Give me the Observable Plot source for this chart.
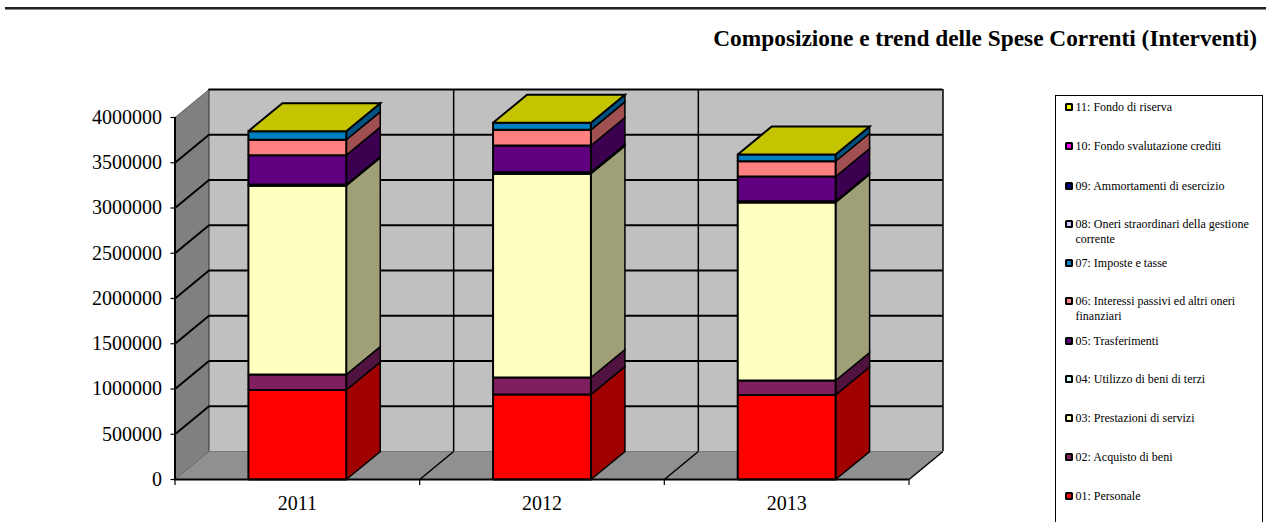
<!DOCTYPE html>
<html><head><meta charset="utf-8">
<script src="https://cdn.jsdelivr.net/npm/d3@7"></script>
<script src="https://cdn.jsdelivr.net/npm/@observablehq/plot@0.6"></script>
<style>
html,body{margin:0;padding:0;background:#fff;width:1266px;height:522px;overflow:hidden;position:relative;font-family:"Liberation Serif",serif;color:#000}
#rule{position:absolute;left:5px;right:0;top:7px;height:1.5px;background:#222;border-bottom:1.5px solid #888}
#title{position:absolute;right:9px;top:25px;font-size:23.35px;font-weight:bold;line-height:26px;white-space:nowrap}
#chart{position:absolute;left:0;top:0}
#legend{position:absolute;left:1054.5px;top:95px;width:208.5px;height:440px;border:1px solid #000;box-sizing:border-box}
.item{position:absolute;left:20px;width:182px;font-size:12px;line-height:15px}
.sw{position:absolute;left:-10.5px;top:3px;width:4px;height:4px;border:2.5px solid #000;border-radius:1.5px}
</style></head><body>
<div id="rule"></div>
<div id="title">Composizione e trend delle Spese Correnti (Interventi)</div>
<div id="chart"></div>
<div id="legend"></div>
<script>
const years = ["2011", "2012", "2013"];
const seriesNames = ["01: Personale","02: Acquisto di beni","03: Prestazioni di servizi","04: Utilizzo di beni di terzi","05: Trasferimenti","06: Interessi passivi ed altri oneri finanziari","07: Imposte e tasse","08: Oneri straordinari della gestione corrente","09: Ammortamenti di esercizio","10: Fondo svalutazione crediti","11: Fondo di riserva"];
const personale = [989000, 939000, 934000];
const acquisto = [171000, 188000, 160000];
const prestazioni = [2086000, 2251000, 1967000];
const utilizzo = [14000, 17000, 14000];
const trasferimenti = [324000, 296000, 273000];
const interessi = [170000, 173000, 169000];
const imposte = [95000, 78000, 74000];
const oneri = [0, 0, 0];
const ammortamenti = [0, 0, 0];
const fondoCrediti = [0, 0, 0];
const fondoRiserva = [0, 0, 0];
const seriesValues = [personale, acquisto, prestazioni, utilizzo, trasferimenti, interessi, imposte, oneri, ammortamenti, fondoCrediti, fondoRiserva];
const frontColors = ["#ff0000","#7f1f5f","#ffffc0","#ccffff","#600080","#ff8080","#0080c0","#ccccff","#000080","#ff00ff","#ffff00"];
const sideColors = ["#a00000","#501340","#a0a078","#80a0a0","#3c0050","#a05050","#005080","#8080a0","#000050","#a000a0","#a0a000"];
const topColor = "#c4c400";
const yTicks = [0,500000,1000000,1500000,2000000,2500000,3000000,3500000,4000000];

const depthX = 34/244.7, depthY = 309000, barWidth = 0.40;
const yMax = 4000000, n = years.length;

// Build closed polygons in data units (oblique projection of the 3D box)
const poly = (id, fill, pts) => [...pts, pts[0]].map(([x,y]) => ({id, fill, x, y}));
const front = [], sides = [], tops = [];
years.forEach((yr,i) => {
  const x0 = i + 0.5 - barWidth/2, x1 = i + 0.5 + barWidth/2;
  let base = 0;
  seriesValues.forEach((vals,s) => {
    const v = vals[i], t = base + v;
    if (v > 0) {
      front.push(...poly(`f${i}-${s}`, frontColors[s], [[x0,base],[x1,base],[x1,t],[x0,t]]));
      sides.push(...poly(`s${i}-${s}`, sideColors[s], [[x1,base],[x1+depthX,base+depthY],[x1+depthX,t+depthY],[x1,t]]));
    }
    base = t;
  });
  tops.push(...poly(`t${i}`, topColor, [[x0,base],[x1,base],[x1+depthX,base+depthY],[x0+depthX,base+depthY]]));
});
const walls = [
  ...poly("back","#c0c0c0",[[depthX,depthY],[n+depthX,depthY],[n+depthX,yMax+depthY],[depthX,yMax+depthY]]),
  ...poly("left","#808080",[[0,0],[depthX,depthY],[depthX,yMax+depthY],[0,yMax]]),
  ...poly("floor","#909090",[[0,0],[n,0],[n+depthX,depthY],[depthX,depthY]])
];
const inner = yTicks.filter(v => v > 0);
const cats = d3.range(1, n+1);
const lineOpts = {x:"x", y:"y", z:"id", fill:"fill", strokeLinejoin:"miter", strokeLinecap:"butt", strokeMiterlimit:4};

const chart = Plot.plot({
  width:1040, height:522, marginLeft:174.5, marginRight:131.5, marginTop:117, marginBottom:43,
  style:{fontFamily:"'Liberation Serif',serif", fontSize:"20px", background:"transparent", color:"#000"},
  x:{domain:[0,n]}, y:{domain:[0,yMax]}, color:{type:"identity"},
  marks:[
    Plot.line(walls, {...lineOpts, stroke:"none"}),
    // thin wall edges
    Plot.link([0,yMax], {x1:0, y1:d=>d, x2:depthX, y2:d=>d+depthY, stroke:"#666", strokeWidth:1}),
    Plot.ruleX([depthX], {y1:depthY, y2:yMax+depthY, stroke:"#333", strokeWidth:1}),
    Plot.ruleY([depthY], {x1:depthX, x2:n+depthX, stroke:"#777", strokeWidth:1}),
    // back wall gridlines
    Plot.ruleY(inner, {y:d=>d+depthY, x1:depthX, x2:n+depthX, stroke:"#000", strokeWidth:2}),
    Plot.link(inner.slice(0,-1), {x1:0, y1:d=>d, x2:depthX, y2:d=>d+depthY, stroke:"#000", strokeWidth:2}),
    Plot.ruleX(cats, {x:d=>d+depthX, y1:depthY, y2:yMax+depthY, stroke:"#000", strokeWidth:1.5}),
    Plot.link(cats, {x1:d=>d, y1:0, x2:d=>d+depthX, y2:depthY, stroke:"#000", strokeWidth:1.5}),
    // bars
    Plot.line(sides, {...lineOpts, stroke:"#000", strokeWidth:1.5}),
    Plot.line(front, {...lineOpts, stroke:"#000", strokeWidth:2}),
    Plot.line(tops, {...lineOpts, stroke:"#000", strokeWidth:2}),
    // axes
    Plot.ruleX([0], {y1:0, y2:yMax, stroke:"#000", strokeWidth:2}),
    Plot.ruleY([0], {x1:0, x2:n, stroke:"#000", strokeWidth:2}),
    Plot.axisY(yTicks, {tickSize:4, tickPadding:9, tickFormat:d=>String(d), label:null, stroke:"#000", fill:"#000", strokeWidth:1.2}),
    Plot.axisX(d3.range(0,n+1), {tickSize:6, tickFormat:()=>"", label:null, stroke:"#000", strokeWidth:1.2}),
    Plot.axisX(years.map((_,i)=>i+0.5), {tickSize:0, tickPadding:16, tickFormat:d=>years[Math.floor(d)], label:null, fill:"#000"})
  ]
});
document.getElementById("chart").append(chart);

const legendTops = [4,43,83,121,160,198,238,276,315,354,393];
const legend = document.getElementById("legend");
seriesNames.slice().reverse().forEach((name,i) => {
  const c = frontColors[seriesNames.length-1-i];
  const el = document.createElement("div");
  el.className = "item"; el.style.top = legendTops[i]+"px"; el.textContent = name;
  const sw = document.createElement("span");
  sw.className = "sw"; sw.style.background = c;
  el.append(sw); legend.append(el);
});
</script>
</body></html>
